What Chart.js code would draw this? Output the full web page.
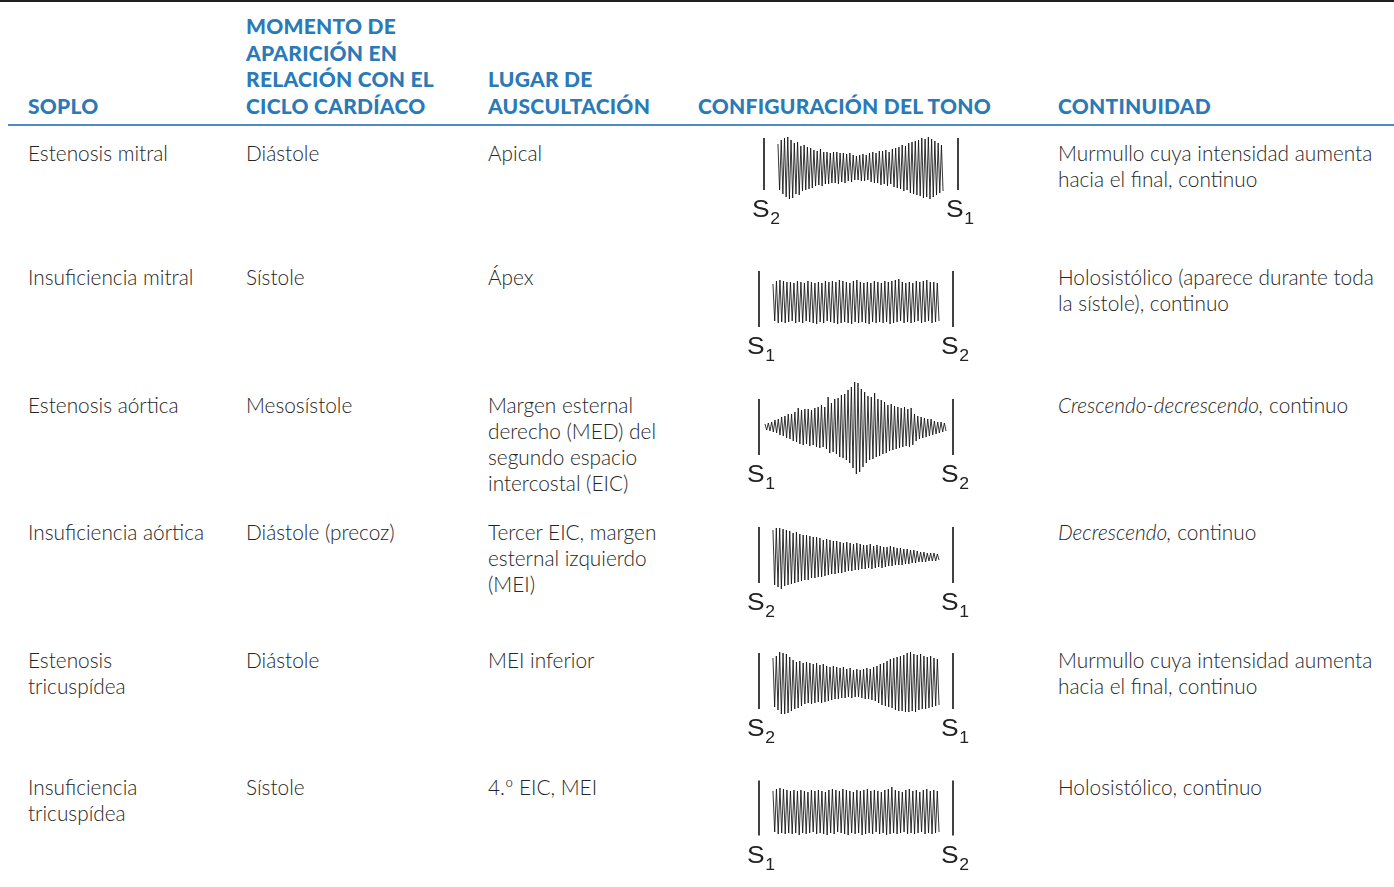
<!DOCTYPE html>
<html><head><meta charset="utf-8">
<script src="https://cdn.jsdelivr.net/npm/chart.js@4.4.1/dist/chart.umd.min.js"></script>
<style>
html,body{margin:0;padding:0;background:#fff;}
body{width:1394px;height:887px;position:relative;overflow:hidden;font-family:Lato,"Open Sans",sans-serif;}
.topline{position:absolute;left:0;top:0;width:1394px;height:2px;background:#231f20;}
.hrule{position:absolute;left:8px;top:124px;width:1386px;height:2px;background:#4f8cc4;}
.h{position:absolute;font-weight:900;font-size:21px;letter-spacing:0.25px;line-height:26.5px;color:#2a7ab8;white-space:nowrap;}
.c{position:absolute;font-weight:300;font-size:20.8px;line-height:26px;color:#262626;white-space:nowrap;}
.w{position:absolute;}
</style></head><body>
<div class="topline"></div>
<div class="hrule"></div>
<script>
// ---------- table text ----------
const headers = [
  ['SOPLO'],
  ['MOMENTO DE','APARICIÓN EN','RELACIÓN CON EL','CICLO CARDÍACO'],
  ['LUGAR DE','AUSCULTACIÓN'],
  ['CONFIGURACIÓN DEL TONO'],
  ['CONTINUIDAD']
];
const soplo = [
  ['Estenosis mitral'],
  ['Insuficiencia mitral'],
  ['Estenosis aórtica'],
  ['Insuficiencia aórtica'],
  ['Estenosis','tricuspídea'],
  ['Insuficiencia','tricuspídea']
];
const momento = [
  ['Diástole'],['Sístole'],['Mesosístole'],['Diástole (precoz)'],['Diástole'],['Sístole']
];
const lugar = [
  ['Apical'],
  ['Ápex'],
  ['Margen esternal','derecho (MED) del','segundo espacio','intercostal (EIC)'],
  ['Tercer EIC, margen','esternal izquierdo','(MEI)'],
  ['MEI inferior'],
  ['4.º EIC, MEI']
];
const continuidadItalic = ['', '', 'Crescendo-decrescendo,', 'Decrescendo,', '', ''];
const continuidad = [
  ['Murmullo cuya intensidad aumenta','hacia el final, continuo'],
  ['Holosistólico (aparece durante toda','la sístole), continuo'],
  [' continuo'],
  [' continuo'],
  ['Murmullo cuya intensidad aumenta','hacia el final, continuo'],
  ['Holosistólico, continuo']
];

// ---------- waveform data (amplitude of each oscillation, above / below the baseline) ----------
const w1Top = [20,24,26,27,24,21,22,18,19,17,16,14,13,15,12,12,11,12,12,11,11,10,11,9,8,9,10,9,11,12,11,13,13,14,12,15,16,17,19,18,21,22,23,24,26,25,27,25,23,21,19];
const w1Bot = [-26,-30,-33,-35,-34,-30,-31,-27,-26,-25,-24,-22,-21,-22,-20,-20,-19,-19,-20,-18,-19,-17,-18,-16,-16,-17,-17,-16,-18,-19,-19,-21,-20,-22,-20,-23,-24,-25,-27,-26,-29,-30,-31,-32,-34,-33,-35,-33,-31,-29,-27];
const w2Top = [15,18,19,18,17,17,16,18,17,16,18,17,16,17,16,18,17,18,17,19,18,17,16,18,19,17,16,17,16,18,17,16,18,17,18,19,20,17,16,17,16,18,17,18,19,17,17,16];
const w2Bot = [-22,-24,-23,-24,-23,-22,-24,-23,-24,-22,-23,-24,-25,-23,-24,-22,-23,-24,-25,-24,-23,-24,-25,-23,-24,-23,-24,-25,-23,-24,-23,-24,-23,-25,-24,-23,-22,-24,-23,-24,-23,-22,-24,-23,-22,-24,-23,-22];
const w3Top = [3,4,5,7,8,10,11,13,13,15,19,17,18,18,17,19,20,22,20,30,24,28,29,32,33,37,40,45,44,38,35,31,30,34,28,27,25,22,23,21,20,19,20,18,19,13,11,10,9,8,8,6,5,5,4];
const w3Bot = [-3,-4,-5,-6,-8,-9,-11,-12,-14,-15,-17,-18,-17,-19,-18,-20,-21,-20,-22,-26,-25,-27,-30,-31,-33,-36,-41,-47,-45,-40,-36,-33,-32,-30,-29,-27,-26,-24,-23,-22,-21,-20,-19,-20,-18,-14,-12,-11,-10,-9,-8,-7,-6,-5,-4];
const w4Top = [25,27,27,26,25,24,22,23,21,20,20,19,18,18,17,15,16,15,14,14,13,12,13,12,11,12,11,10,10,11,9,10,9,8,8,9,8,7,7,6,6,5,5,4,3,3,2,2,2,1];
const w4Bot = [-30,-32,-34,-31,-30,-29,-28,-27,-26,-25,-25,-23,-23,-22,-22,-21,-20,-19,-19,-18,-18,-17,-16,-16,-15,-15,-14,-14,-13,-14,-13,-12,-13,-12,-11,-11,-10,-10,-10,-9,-9,-8,-8,-7,-7,-7,-6,-6,-6,-5];
const w5Top = [23,25,29,28,27,24,21,19,20,18,19,18,17,18,16,17,15,14,15,14,13,14,12,13,11,12,11,12,13,12,14,15,17,18,20,22,23,24,25,26,28,29,27,26,27,25,24,25,23,22];
const w5Bot = [-26,-29,-33,-33,-32,-30,-28,-27,-25,-23,-22,-23,-22,-21,-22,-21,-20,-19,-18,-18,-17,-17,-16,-17,-16,-16,-17,-18,-18,-19,-20,-22,-24,-25,-26,-27,-29,-30,-30,-31,-31,-30,-31,-29,-28,-28,-27,-26,-25,-24];
const w6Top = [17,19,20,19,18,17,18,17,18,17,16,18,17,18,17,16,18,19,18,17,19,18,17,16,18,17,18,19,17,18,17,16,18,19,21,18,17,16,18,19,17,18,16,18,19,17,18,17];
const w6Bot = [-24,-26,-25,-26,-25,-26,-25,-27,-25,-26,-25,-24,-26,-25,-26,-27,-25,-26,-24,-25,-26,-27,-25,-26,-25,-27,-26,-25,-26,-24,-26,-25,-27,-26,-25,-26,-25,-24,-26,-25,-26,-25,-24,-26,-25,-26,-25,-24];
const waveTops = [w1Top,w2Top,w3Top,w4Top,w5Top,w6Top];
const waveBots = [w1Bot,w2Bot,w3Bot,w4Bot,w5Bot,w6Bot];
// murmur start / end as a fraction of the interval between the two heart sounds
const murmurStart = [0.072,0.072,0.031,0.072,0.072,0.072];
const murmurEnd   = [0.923,0.928,0.964,0.928,0.928,0.928];
// heart-sound markers (time 0 and time 1) and their subscripts
const soundTimes = [0, 1];
const soundHalfHeight = [26,28,28,28,28,27.5];
const leftSound  = ['2','1','1','2','2','1'];
const rightSound = ['1','2','2','1','1','2'];

// ---------- layout ----------
const colX = [28, 246, 488, 698, 1058];
const rowBaseline = [161, 285, 413, 540, 668, 795];
const waveCenterY = [164, 299, 427, 555, 681, 807.5];
const waveLeftBarX = [764, 759, 759, 759, 759, 759];
const barSpan = 194;

function addDiv(cls, x, y, html){
  const d = document.createElement('div');
  d.className = cls; d.style.left = x+'px'; d.style.top = y+'px'; d.innerHTML = html;
  document.body.appendChild(d); return d;
}
headers.forEach((lines,i)=>{
  const top = 114 - 21.4 - (lines.length-1)*26.5;
  addDiv('h', colX[i], top, lines.join('<br>'));
});
for(let r=0;r<6;r++){
  const top = rowBaseline[r] - 21.1;
  addDiv('c', colX[0], top, soplo[r].join('<br>'));
  addDiv('c', colX[1], top, momento[r].join('<br>'));
  addDiv('c', colX[2], top, lugar[r].join('<br>'));
  let html = '';
  if(continuidadItalic[r]) html += '<i>'+continuidadItalic[r]+'</i>';
  html += continuidad[r].join('<br>');
  addDiv('c', colX[4], top, html);
}

// ---------- charts ----------
const sLabelPlugin = {
  id: 'sLabels',
  afterDatasetsDraw(chart, args, opts){
    const {ctx} = chart; const x = chart.scales.x, y = chart.scales.y;
    ctx.save(); ctx.fillStyle = '#222'; ctx.textAlign = 'left'; ctx.textBaseline = 'alphabetic';
    opts.labels.forEach(l=>{
      const px = x.getPixelForValue(l.t);
      const py = y.getPixelForValue(-opts.half) + 27;
      ctx.save();
      ctx.translate(px - 12, py); ctx.scale(1.1, 1);
      ctx.font = '24px "Liberation Sans", Arial, sans-serif';
      ctx.fillText('S', 0, 0);
      const w = ctx.measureText('S').width;
      ctx.font = '16px "Liberation Sans", Arial, sans-serif';
      ctx.fillText(l.sub, w + 0.5, 7);
      ctx.restore();
    });
    ctx.restore();
  }
};

function zigzag(tops, bots, t0, t1){
  const n = tops.length, pts = [];
  const step = (t1 - t0) / (2*n - 1);
  for(let i=0;i<n;i++){
    pts.push({x: t0 + 2*i*step, y: tops[i]});
    pts.push({x: t0 + (2*i+1)*step, y: bots[i]});
  }
  return pts;
}

const PAD = 25, W = barSpan + 2*PAD, ABOVE = 55, BELOW = 75;
for(let k=0;k<6;k++){
  const wrap = document.createElement('div');
  wrap.className = 'w';
  wrap.style.left = (waveLeftBarX[k] - PAD) + 'px';
  wrap.style.top = (waveCenterY[k] - ABOVE) + 'px';
  wrap.style.width = W + 'px'; wrap.style.height = (ABOVE + BELOW) + 'px';
  const cv = document.createElement('canvas');
  cv.width = W; cv.height = ABOVE + BELOW;
  cv.style.width = W + 'px'; cv.style.height = (ABOVE + BELOW) + 'px';
  wrap.appendChild(cv); document.body.appendChild(wrap);
  const h = soundHalfHeight[k];
  const datasets = [
    {data: zigzag(waveTops[k], waveBots[k], murmurStart[k], murmurEnd[k]), borderColor:'#111', borderWidth:0.85, borderJoinStyle:'bevel'},
    ...soundTimes.map(t=>({data:[{x:t,y:-h},{x:t,y:h}], borderColor:'#111', borderWidth:1.6}))
  ];
  new Chart(cv, {
    type: 'line',
    data: {datasets},
    options: {
      responsive: false, animation: false, devicePixelRatio: 1, events: [],
      layout: {padding: 0},
      elements: {point: {radius: 0}, line: {tension: 0}},
      scales: {
        x: {type:'linear', display:false, min: -PAD/barSpan, max: 1 + PAD/barSpan},
        y: {type:'linear', display:false, min: -BELOW, max: ABOVE}
      },
      plugins: {
        legend: {display:false}, tooltip: {enabled:false},
        sLabels: {half: h, labels: [{t: soundTimes[0], sub: leftSound[k]}, {t: soundTimes[1], sub: rightSound[k]}]}
      }
    },
    plugins: [sLabelPlugin]
  });
}
</script>
</body></html>
